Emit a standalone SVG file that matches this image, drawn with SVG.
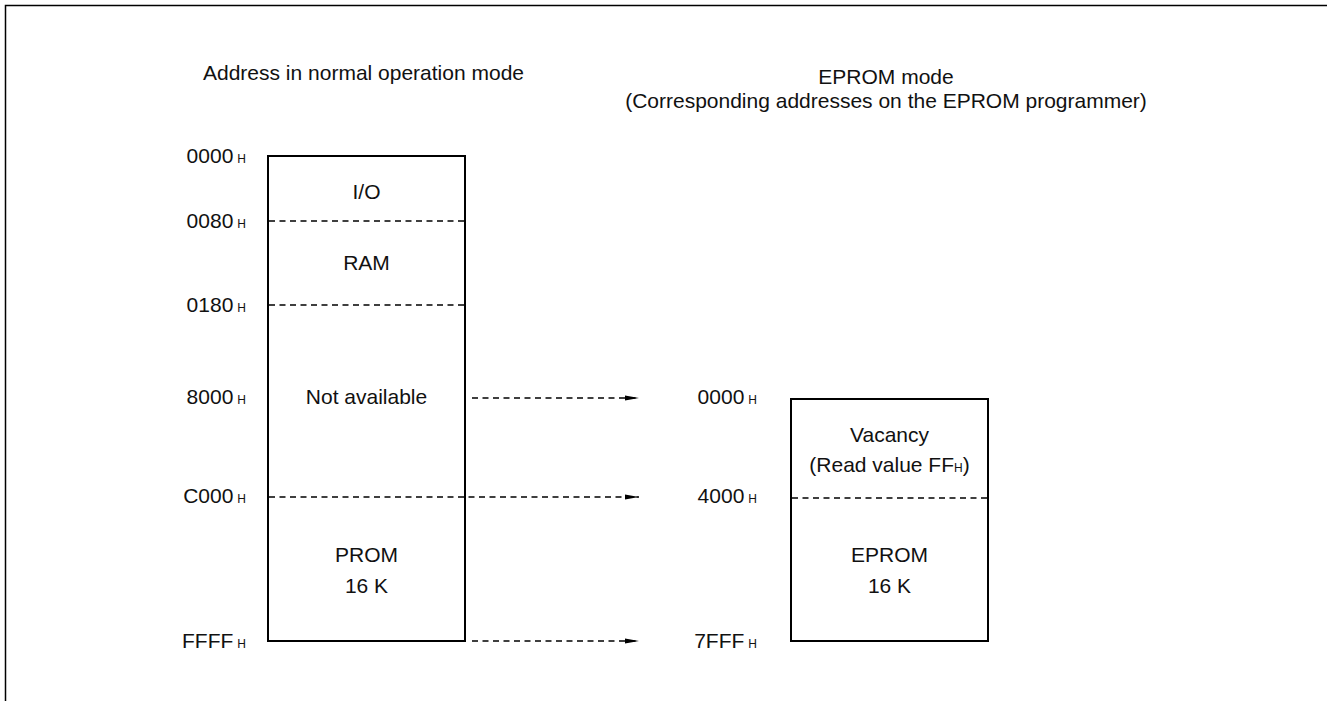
<svg xmlns="http://www.w3.org/2000/svg" width="1327" height="701" viewBox="0 0 1327 701">
<style>
text{font-family:"Liberation Sans",Arial,sans-serif;font-size:21px;fill:#111}
.h{font-size:12px}
.c{text-anchor:middle}
.e{text-anchor:end}
.box{fill:none;stroke:#000;stroke-width:2}
.dash{fill:none;stroke:#000;stroke-width:1.3;stroke-dasharray:6 4.5}
.frame{fill:none;stroke:#000;stroke-width:1.5}
</style>
<defs>
<marker id="ah" markerUnits="userSpaceOnUse" markerWidth="14" markerHeight="6" refX="14" refY="3" orient="auto">
<path d="M0,0.5 L14,3 L0,5.5 z" fill="#000"/>
</marker>
</defs>
<rect width="1327" height="701" fill="#fff"/>
<path class="frame" d="M5.5,701 V5.5 H1327"/>

<g id="headers">
<text x="203" y="80">Address in normal operation mode</text>
<text class="c" x="886" y="84">EPROM mode</text>
<text class="c" x="886" y="108">(Corresponding addresses on the EPROM programmer)</text>
</g>

<g id="normal-map">
<rect class="box" x="268" y="156" width="197" height="485"/>
<line class="dash" x1="269" y1="221" x2="464" y2="221"/>
<line class="dash" x1="269" y1="305" x2="464" y2="305"/>
<text class="c" x="366.5" y="199">I/O</text>
<text class="c" x="366.5" y="270">RAM</text>
<text class="c" x="366.5" y="404">Not available</text>
<text class="c" x="366.5" y="562">PROM</text>
<text class="c" x="366.5" y="593">16 K</text>
</g>

<g id="normal-labels">
<text class="e" x="246" y="163">0000<tspan class="h" dx="4">H</tspan></text>
<text class="e" x="246" y="228">0080<tspan class="h" dx="4">H</tspan></text>
<text class="e" x="246" y="312">0180<tspan class="h" dx="4">H</tspan></text>
<text class="e" x="246" y="404">8000<tspan class="h" dx="4">H</tspan></text>
<text class="e" x="246" y="503">C000<tspan class="h" dx="4">H</tspan></text>
<text class="e" x="246" y="648">FFFF<tspan class="h" dx="4">H</tspan></text>
</g>

<g id="eprom-map">
<rect class="box" x="791" y="399" width="197" height="242"/>
<line class="dash" x1="792" y1="498" x2="987" y2="498"/>
<text class="c" x="889.5" y="442">Vacancy</text>
<text class="c" x="889.5" y="472">(Read value FF<tspan class="h" font-size="14">H</tspan>)</text>
<text class="c" x="889.5" y="562">EPROM</text>
<text class="c" x="889.5" y="593">16 K</text>
</g>

<g id="eprom-labels">
<text class="e" x="757" y="404">0000<tspan class="h" dx="4">H</tspan></text>
<text class="e" x="757" y="503">4000<tspan class="h" dx="4">H</tspan></text>
<text class="e" x="757" y="648">7FFF<tspan class="h" dx="4">H</tspan></text>
</g>

<g id="connectors">
<line class="dash" x1="472" y1="398" x2="639" y2="398" marker-end="url(#ah)"/>
<line class="dash" x1="269" y1="497" x2="639" y2="497" marker-end="url(#ah)"/>
<line class="dash" x1="472" y1="641" x2="639" y2="641" marker-end="url(#ah)"/>
</g>
</svg>
